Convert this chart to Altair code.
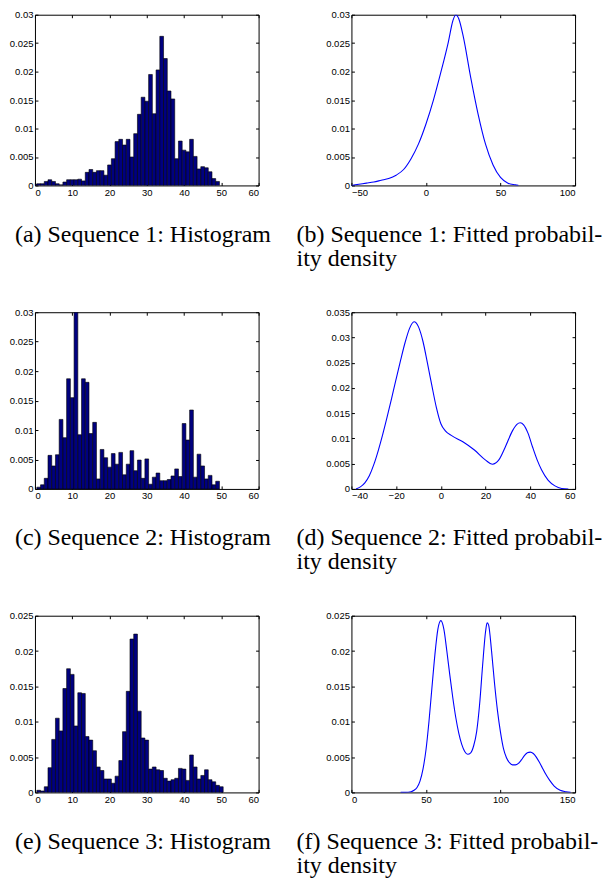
import altair as alt
import pandas as pd

# ---------------- data ----------------
# Histograms: bin centres and normalised heights
HIST_A_CENTERS = list(range(0, 50))
HIST_A = [0.0002, 0.0003, 0.0003, 0.0007, 0.0010, 0.0007, 0.0003, 0.0001, 0.0006, 0.0010,
          0.0010, 0.0010, 0.0011, 0.0008, 0.0023, 0.0028, 0.0023, 0.0026, 0.0026, 0.0018,
          0.0036, 0.0047, 0.0077, 0.0081, 0.0071, 0.0081, 0.0050, 0.0091, 0.0125, 0.0155,
          0.0148, 0.0195, 0.0126, 0.0203, 0.0262, 0.0223, 0.0166, 0.0152, 0.0047, 0.0078,
          0.0062, 0.0059, 0.0081, 0.0051, 0.0029, 0.0033, 0.0031, 0.0024, 0.0012, 0.0007]

HIST_C_CENTERS = list(range(1, 50))
HIST_C = [0.0003, 0.0007, 0.0018, 0.0057, 0.0039, 0.0058, 0.0118, 0.0087, 0.0187,
          0.0155, 0.0300, 0.0092, 0.0187, 0.0181, 0.0094, 0.0113, 0.0017, 0.0067, 0.0053,
          0.0037, 0.0060, 0.0042, 0.0062, 0.0024, 0.0042, 0.0065, 0.0031, 0.0049, 0.0018,
          0.0051, 0.0008, 0.0020, 0.0027, 0.0014, 0.0014, 0.0016, 0.0022, 0.0034, 0.0021,
          0.0111, 0.0083, 0.0134, 0.0020, 0.0059, 0.0039, 0.0017, 0.0023, 0.0007, 0.0013]

HIST_E_CENTERS = list(range(1, 51))
HIST_E = [0.0003, 0.0002, 0.0008, 0.0035, 0.0075, 0.0105, 0.0087, 0.0147, 0.0175,
          0.0167, 0.0094, 0.0141, 0.0140, 0.0079, 0.0074, 0.0059, 0.0036, 0.0031, 0.0019,
          0.0019, 0.0013, 0.0023, 0.0045, 0.0086, 0.0143, 0.0217, 0.0224, 0.0115, 0.0077,
          0.0074, 0.0033, 0.0036, 0.0032, 0.0031, 0.0020, 0.0016, 0.0018, 0.0020, 0.0034,
          0.0033, 0.0017, 0.0053, 0.0036, 0.0019, 0.0024, 0.0032, 0.0018, 0.0015, 0.0010,
          0.0008]

# Fitted densities
DENS_B_X = [-50, -45, -40, -35, -30, -25, -20, -15, -10, -5, 0, 5, 10, 15, 18, 20, 22, 25,
            30, 35, 40, 45, 50, 55, 60, 62]
DENS_B_Y = [0.0000, 0.0002, 0.0004, 0.0006, 0.0009, 0.0012, 0.0018, 0.0028, 0.0047, 0.0073,
            0.0108, 0.0150, 0.0199, 0.0252, 0.0289, 0.0300, 0.0293, 0.0262, 0.0190, 0.0125,
            0.0072, 0.0036, 0.0014, 0.0004, 0.0001, 0.0000]

DENS_D_X = [-38, -36, -34, -32, -30, -28, -26, -24, -22, -20, -18, -16, -14, -12, -10, -8,
            -6, -4, -2, 0, 2, 5, 10, 15, 20, 23, 26, 29, 32, 34, 35.5, 37, 39, 41, 43, 45,
            48, 51, 54, 57]
DENS_D_Y = [0.0000, 0.0004, 0.0012, 0.0026, 0.0048, 0.0076, 0.0108, 0.0143, 0.0180, 0.0218,
            0.0255, 0.0290, 0.0318, 0.0331, 0.0321, 0.0292, 0.0249, 0.0204, 0.0161, 0.0129,
            0.0115, 0.0105, 0.0093, 0.0077, 0.0057, 0.0049, 0.0058, 0.0085, 0.0115, 0.0128,
            0.0131, 0.0127, 0.0110, 0.0083, 0.0058, 0.0038, 0.0017, 0.0006, 0.0001, 0.0000]

DENS_F_X = [33, 36, 40, 42, 44, 46, 48, 50, 52, 54, 56, 58, 60, 62, 64, 66, 68, 70, 72, 74,
            76, 78, 80, 82, 84, 86, 88, 90, 91, 92, 94, 96, 98, 100, 102, 104, 106, 108,
            110, 112, 114, 116, 118, 120, 122, 124, 126, 128, 130, 133, 136, 140, 144, 147]
DENS_F_Y = [0.0000, 0.0000, 0.0001, 0.0003, 0.0007, 0.0016, 0.0033, 0.0060, 0.0100, 0.0148,
            0.0195, 0.0231, 0.0243, 0.0231, 0.0200, 0.0166, 0.0134, 0.0106, 0.0084, 0.0068,
            0.0058, 0.0054, 0.0056, 0.0066, 0.0086, 0.0125, 0.0180, 0.0228, 0.0240, 0.0237,
            0.0200, 0.0154, 0.0115, 0.0085, 0.0062, 0.0049, 0.0042, 0.0039, 0.0039, 0.0041,
            0.0046, 0.0052, 0.0056, 0.0057, 0.0055, 0.0050, 0.0043, 0.0035, 0.0027, 0.0017,
            0.0009, 0.0003, 0.0001, 0.0000]

CAPTIONS = [
    "(a) Sequence 1: Histogram",
    ["(b) Sequence 1: Fitted probabil-", "ity density"],
    "(c) Sequence 2: Histogram",
    ["(d) Sequence 2: Fitted probabil-", "ity density"],
    "(e) Sequence 3: Histogram",
    ["(f) Sequence 3: Fitted probabil-", "ity density"],
]

# ---------------- styling helpers ----------------
W, H = 224, 177
H_TOP = 171
TICK = 3
LABEL_FONT = "Liberation Sans"
LABEL_SIZE = 9.5


def axis(orient, values, fmt, labels=True):
    return alt.Axis(
        orient=orient, values=values, format=fmt, labels=labels, grid=False, domain=False,
        ticks=True, tickSize=TICK, tickColor="black", tickWidth=1, offset=-TICK,
        labelFont=LABEL_FONT, labelFontSize=LABEL_SIZE, labelColor="black",
        labelPadding=2, title=None, labelOverlap=False,
    )


def caption(text, dx):
    return alt.TitleParams(
        text=text, orient="bottom", anchor="start", frame="group", dx=dx, offset=26,
        font="Liberation Serif", fontSize=24, fontWeight="normal", color="black",
        lineHeight=24,
    )


def panel(main_mark, df, xfield, x2field, yfield, xdom, xticks, xfmt, ydom, yticks, cap, dx, h):
    xs = alt.Scale(domain=xdom, nice=False, zero=False)
    ys = alt.Scale(domain=ydom, nice=False)
    enc = dict(
        x=alt.X(f"{xfield}:Q", scale=xs, axis=axis("bottom", xticks, xfmt)),
        y=alt.Y(f"{yfield}:Q", scale=ys, axis=axis("left", yticks, ".3~f")),
    )
    if x2field:
        enc["x2"] = alt.X2(f"{x2field}:Q")
        enc["y2"] = alt.Y2("z:Q")
    main = main_mark.encode(**enc)
    frame = alt.Chart(df).mark_point(opacity=0).encode(
        x=alt.X(f"{xfield}:Q", scale=xs, axis=axis("top", xticks, xfmt, labels=False)),
        y=alt.Y(f"{yfield}:Q", scale=ys, axis=axis("right", yticks, ".3~f", labels=False)),
    )
    return (
        alt.layer(main, frame)
        .resolve_axis(x="independent", y="independent")
        .properties(width=W, height=h, title=caption(cap, dx))
    )


def hist(centers, vals, ydom, yticks, cap, h=H):
    df = pd.DataFrame({"c": centers, "v": vals})
    base = alt.Chart(df).transform_calculate(
        lo="datum.c - 0.5", hi="datum.c + 0.5", z="0"
    ).mark_bar(color="#000080", stroke="black", strokeWidth=0.6, clip=True)
    return panel(base, df, "lo", "hi", "v", [0, 60], [0, 10, 20, 30, 40, 50, 60], "d",
                 ydom, yticks, cap, -20, h)


def dens(xs, ys, xdom, xticks, ydom, yticks, cap, h=H):
    df = pd.DataFrame({"x": xs, "y": ys})
    base = alt.Chart(df).mark_line(color="#0000ff", strokeWidth=1.1, interpolate="monotone",
                                   clip=True)
    return panel(base, df, "x", None, "y", xdom, xticks, "d", ydom, yticks, cap, -55, h)


Y30 = [0, 0.005, 0.01, 0.015, 0.02, 0.025, 0.03]
Y35 = [0, 0.005, 0.01, 0.015, 0.02, 0.025, 0.03, 0.035]
Y25 = [0, 0.005, 0.01, 0.015, 0.02, 0.025]

pa = hist(HIST_A_CENTERS, HIST_A, [0, 0.03], Y30, CAPTIONS[0], H_TOP)
pb = dens(DENS_B_X, DENS_B_Y, [-50, 100], [-50, 0, 50, 100], [0, 0.03], Y30, CAPTIONS[1], H_TOP)
pc = hist(HIST_C_CENTERS, HIST_C, [0, 0.03], Y30, CAPTIONS[2])
pd_ = dens(DENS_D_X, DENS_D_Y, [-40, 60], [-40, -20, 0, 20, 40, 60], [0, 0.035], Y35, CAPTIONS[3])
pe = hist(HIST_E_CENTERS, HIST_E, [0, 0.025], Y25, CAPTIONS[4])
pf = dens(DENS_F_X, DENS_F_Y, [0, 150], [0, 50, 100, 150], [0, 0.025], Y25, CAPTIONS[5])

chart = (
    alt.concat(pa, pb, pc, pd_, pe, pf, columns=2,
               spacing={"row": 127, "column": 93}, bounds="flush")
    .properties(padding={"left": 0, "top": 0, "right": 0, "bottom": 0}, background="white")
    .configure_view(stroke="black", strokeWidth=1)
)

chart.save("out.html", embed_options={"renderer": "svg", "actions": False})
